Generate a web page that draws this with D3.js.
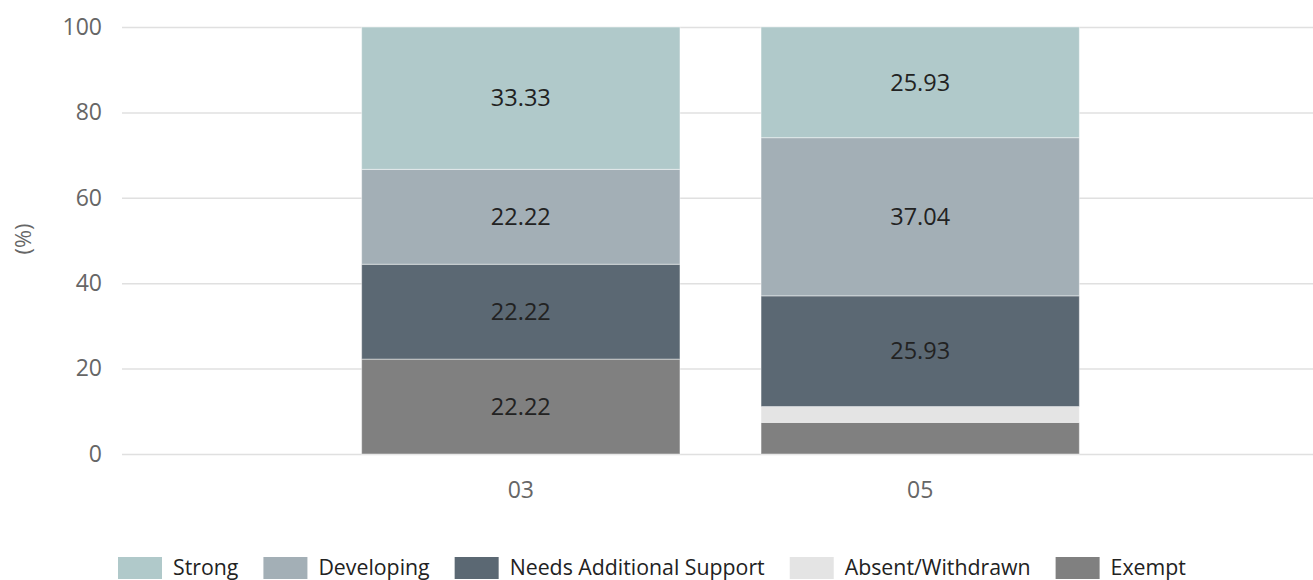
<!DOCTYPE html>
<html>
<head>
<meta charset="utf-8">
<script src="https://cdn.jsdelivr.net/npm/d3@7"></script>
<style>
  body { margin: 0; background: #fff; }
  svg { display: block; font-family: "Open Sans", "Noto Sans", sans-serif; }
</style>
</head>
<body>
<div id="app"></div>
<script>
// data
const grades = ["03", "05"];
const levels = ["Exempt", "Absent/Withdrawn", "Needs Additional Support", "Developing", "Strong"];
const exempt = [22.22, 7.41];
const absent = [0, 3.70];
const needsSupport = [22.22, 25.93];
const developing = [22.22, 37.04];
const strong = [33.33, 25.93];
const yTicks = [0, 20, 40, 60, 80, 100];
const legendOrder = ["Strong", "Developing", "Needs Additional Support", "Absent/Withdrawn", "Exempt"];

const colors = {
  "Strong": "#b0c9ca",
  "Developing": "#a3afb6",
  "Needs Additional Support": "#5b6873",
  "Absent/Withdrawn": "#e4e4e4",
  "Exempt": "#808080"
};

const width = 1313, height = 580;
const rows = grades.map((g, i) => ({
  grade: g,
  "Exempt": exempt[i],
  "Absent/Withdrawn": absent[i],
  "Needs Additional Support": needsSupport[i],
  "Developing": developing[i],
  "Strong": strong[i]
}));

const svg = d3.select("#app").append("svg")
  .attr("width", width)
  .attr("height", height);

const x = d3.scaleBand()
  .domain(grades)
  .range([122, 1319])
  .paddingInner(0.203)
  .paddingOuter(0.6);
const y = d3.scaleLinear().domain([0, 100]).range([454, 27]);

// grid + y labels
const yAxis = svg.append("g")
  .attr("transform", "translate(122,0)")
  .call(d3.axisLeft(y).tickValues(yTicks).tickSize(-(width - 122)).tickPadding(20));
yAxis.select(".domain").remove();
yAxis.selectAll(".tick line").attr("stroke", "#e0e0e0").attr("stroke-width", 1.5);
yAxis.selectAll(".tick text")
  .attr("fill", "#666")
  .style("font-size", "23px")
  .style("font-family", "'Open Sans', sans-serif");

svg.append("text")
  .attr("transform", "translate(23,239) rotate(-90)")
  .attr("text-anchor", "middle")
  .attr("dy", "0.35em")
  .attr("fill", "#666")
  .style("font-size", "22px")
  .text("(%)");

// stacked bars
const series = d3.stack().keys(levels)(rows);
const layer = svg.append("g").selectAll("g")
  .data(series)
  .join("g")
  .attr("fill", d => colors[d.key]);

layer.selectAll("rect")
  .data(d => d.map(p => ({ key: d.key, p })))
  .join("rect")
  .attr("x", d => x(d.p.data.grade))
  .attr("width", x.bandwidth())
  .attr("y", d => y(d.p[1]))
  .attr("height", d => y(d.p[0]) - y(d.p[1]))
  .attr("stroke", "rgba(255,255,255,0.45)")
  .attr("stroke-width", 1);

// value labels (small segments are not labelled)
layer.selectAll("text")
  .data(d => d.map(p => ({ key: d.key, p })).filter(d => d.p[1] - d.p[0] >= 10))
  .join("text")
  .attr("x", d => x(d.p.data.grade) + x.bandwidth() / 2)
  .attr("y", d => y((d.p[0] + d.p[1]) / 2))
  .attr("dy", "0.35em")
  .attr("text-anchor", "middle")
  .attr("fill", "#222")
  .style("font-size", "23.5px")
  .text(d => (d.p[1] - d.p[0]).toFixed(2));

// x labels
const xAxis = svg.append("g")
  .attr("transform", "translate(0,454)")
  .call(d3.axisBottom(x).tickSize(0).tickPadding(28));
xAxis.select(".domain").remove();
xAxis.selectAll(".tick text")
  .attr("fill", "#666")
  .style("font-size", "23px")
  .style("font-family", "'Open Sans', sans-serif");

// legend
const legend = svg.append("g").attr("transform", "translate(118,557)");
let lx = 0;
legendOrder.forEach(k => {
  const item = legend.append("g").attr("transform", `translate(${lx},0)`);
  item.append("rect")
    .attr("width", 44).attr("height", 22)
    .attr("fill", colors[k]);
  const t = item.append("text")
    .attr("x", 55).attr("y", 11)
    .attr("dy", "0.35em")
    .attr("fill", "#222")
    .style("font-size", "21.3px")
    .text(k);
  lx += 55 + t.node().getComputedTextLength() + 25;
});
</script>
</body>
</html>
